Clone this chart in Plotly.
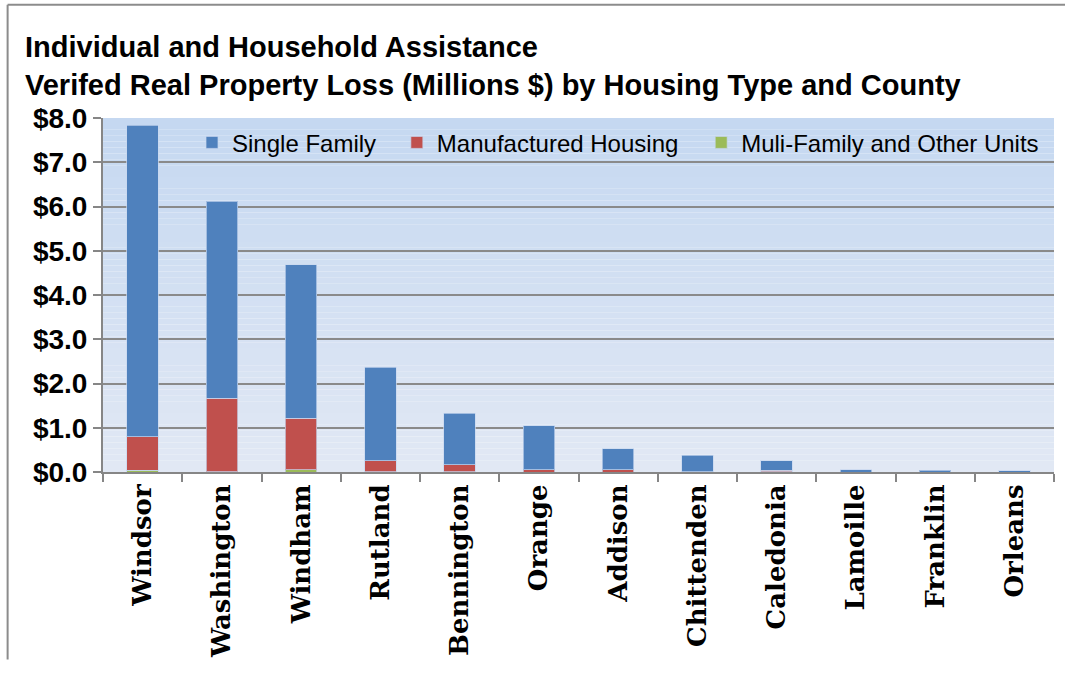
import plotly.graph_objects as go

counties = ["Windsor", "Washington", "Windham", "Rutland", "Bennington", "Orange",
            "Addison", "Chittenden", "Caledonia", "Lamoille", "Franklin", "Orleans"]
single_family = [7.04, 4.45, 3.46, 2.11, 1.17, 0.99, 0.47, 0.37, 0.22, 0.05, 0.04, 0.03]
manufactured = [0.76, 1.66, 1.17, 0.25, 0.15, 0.05, 0.05, 0.01, 0.03, 0.0, 0.0, 0.0]
multi_family = [0.04, 0.01, 0.05, 0.01, 0.01, 0.0, 0.0, 0.0, 0.01, 0.0, 0.0, 0.0]
y_ticks = [0, 1, 2, 3, 4, 5, 6, 7, 8]
y_tick_labels = ["$0.0", "$1.0", "$2.0", "$3.0", "$4.0", "$5.0", "$6.0", "$7.0", "$8.0"]

fig = go.Figure()
outline = dict(color="rgba(200,215,240,0.7)", width=1)
fig.add_trace(go.Bar(x=counties, y=multi_family, name="Muli-Family and Other Units",
                     marker=dict(color="#9bbb59", line=outline), legend="legend3", showlegend=True))
fig.add_trace(go.Bar(x=counties, y=manufactured, name="Manufactured Housing",
                     marker=dict(color="#c0504d", line=outline), legend="legend2", showlegend=True))
fig.add_trace(go.Bar(x=counties, y=single_family, name="Single Family",
                     marker=dict(color="#4f81bd", line=outline), legend="legend", showlegend=True))

# gradient background bands
shapes = []
n = 60
top = (197, 216, 241)
bot = (225, 232, 244)
for i in range(n):
    t = i / (n - 1)
    c = tuple(round(top[k] + (bot[k] - top[k]) * t) for k in range(3))
    shapes.append(dict(type="rect", xref="paper", yref="paper", x0=0, x1=1,
                       y0=1 - (i + 1) / n, y1=1 - i / n,
                       fillcolor="rgb(%d,%d,%d)" % c, line=dict(width=0), layer="below"))
# outer frame
shapes.append(dict(type="line", xref="paper", yref="paper", x0=-0.1003, x1=-0.1003,
                   y0=-0.53, y1=1.32, line=dict(color="#8c8c8c", width=2)))
shapes.append(dict(type="line", xref="paper", yref="paper", x0=-0.1003, x1=1.02, y0=1.32, y1=1.32,
                   line=dict(color="#8c8c8c", width=2)))

legend_font = dict(family="Liberation Sans, Arial", size=24, color="black")
def leg(x):
    return dict(orientation="h", x=x, y=0.93, xanchor="left", yanchor="middle",
                bgcolor="rgba(0,0,0,0)", font=legend_font, itemwidth=30, visible=True)

fig.update_layout(
    width=1065, height=674,
    margin=dict(l=103, r=11, t=118, b=202),
    paper_bgcolor="white",
    plot_bgcolor="rgba(0,0,0,0)",
    showlegend=True,
    barmode="stack",
    bargap=0.6,
    shapes=shapes,
    title=dict(text="Individual and Household Assistance<br>Verifed Real Property Loss (Millions $) by Housing Type and County",
               x=25 / 1065, xanchor="left", y=1 - 57 / 674, yanchor="middle",
               font=dict(family="Liberation Sans, Arial", size=29, color="black", weight="bold")),
    legend=leg(0.0936),
    legend2=leg(0.309),
    legend3=leg(0.629),
    xaxis=dict(showline=True, linecolor="#868686", linewidth=2, ticks="outside", tickson="boundaries",
               ticklen=8, tickcolor="#868686", tickwidth=2, tickangle=-90,
               tickfont=dict(family="DejaVu Serif", size=26, color="black", weight="bold"),
               showgrid=False),
    yaxis=dict(range=[0, 8], tickvals=y_ticks, ticktext=y_tick_labels,
               showline=True, linecolor="#868686", linewidth=2, ticks="outside",
               ticklen=8, tickcolor="#868686", tickwidth=2,
               gridcolor="#8a8a8a", gridwidth=2, zeroline=False,
               tickfont=dict(family="Liberation Sans, Arial", size=28, color="black", weight="bold")),
)
fig.write_html("out.html")
